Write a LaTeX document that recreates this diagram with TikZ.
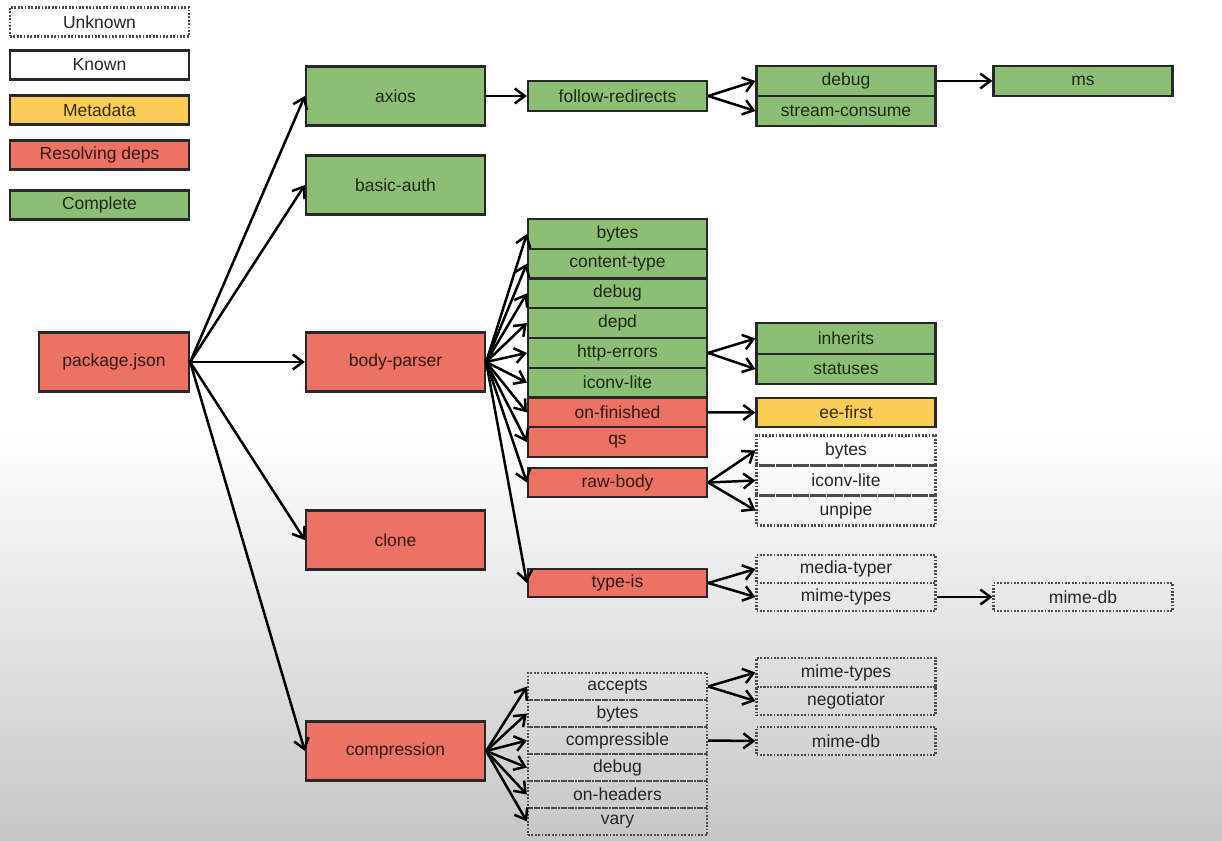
\documentclass[tikz,border=0pt]{standalone}
\usepackage{fontspec}
\setmainfont{Liberation Sans}
\usetikzlibrary{arrows.meta}
\definecolor{cgreen}{RGB}{141,190,118}
\definecolor{cred}{RGB}{235,114,100}
\definecolor{cyellow}{RGB}{249,205,88}
\definecolor{boxline}{RGB}{40,40,40}
\tikzset{
  box/.style={draw=boxline, line width=2.3pt, minimum width=179pt, minimum height=29pt,
    inner sep=0pt, font=\fontsize{17.5}{19}\selectfont},
  complete/.style={box, fill=cgreen, text=cgreen!22!black},
  resolving/.style={box, fill=cred, text=cred!22!black},
  metadata/.style={box, fill=cyellow, text=cyellow!22!black},
  known/.style={box, fill=white, text=black!85},
  unknown/.style={box, draw=black!70, line width=2.2pt, dash pattern=on 1.8pt off 1.6pt, text=black!85},
  big/.style={minimum height=59pt},
  link/.style={draw=black, line width=2.5pt, -{Straight Barb[length=10pt,width=15pt]}}
}
\begin{document}
\begin{tikzpicture}[x=1pt,y=-1pt]
  % canvas with the grey fade towards the bottom
  \useasboundingbox (0,0) rectangle (1222,840);
  \fill[white] (0,0) rectangle (1222,840);
  \shade[top color=white, bottom color=black!22] (0,430) rectangle (1222,840);

  % legend
  \node[unknown]   (lgunknown)  at (99.5,22)  {Unknown};
  \node[known]     (lgknown)    at (99.5,65)  {Known};
  \node[metadata]  (lgmeta)     at (99.5,110) {Metadata};
  \node[resolving] (lgresolve)  at (99.5,155) {Resolving deps};
  \node[complete]  (lgcomplete) at (99.5,205) {Complete};

  % root and direct dependencies
  \node[resolving, big, minimum width=150pt] (pkg) at (114,362) {package.json};
  \node[complete, big]  (axios)       at (395.5,96)  {axios};
  \node[complete, big]  (basicauth)   at (395.5,185) {basic-auth};
  \node[resolving, big] (bodyparser)  at (395.5,362) {body-parser};
  \node[resolving, big] (clone)       at (395.5,540) {clone};
  \node[resolving, big] (compression) at (395.5,751) {compression};

  % axios subtree
  \node[complete, minimum height=30pt] (followredirects) at (617.5,96) {follow-redirects};
  \node[complete, minimum height=30pt] (axdebug)         at (846,81)   {debug};
  \node[complete, minimum height=30pt] (streamconsume)   at (846,111)  {stream-consume};
  \node[complete, minimum height=30pt] (ms)              at (1083,81)  {ms};

  % body-parser subtree
  \node[complete,  minimum height=29.75pt] (bpbytes)       at (617.5,233.9) {bytes};
  \node[complete,  minimum height=29.75pt] (bpcontenttype) at (617.5,263.6) {content-type};
  \node[complete,  minimum height=29.75pt] (bpdebug)       at (617.5,293.4) {debug};
  \node[complete,  minimum height=29.75pt] (bpdepd)        at (617.5,323.1) {depd};
  \node[complete,  minimum height=29.75pt] (bphttperrors)  at (617.5,352.9) {http-errors};
  \node[complete,  minimum height=29.75pt] (bpiconv)       at (617.5,382.6) {iconv-lite};
  \node[resolving, minimum height=29.75pt] (bponfinished)  at (617.5,412.4) {on-finished};
  \node[resolving, minimum height=29.75pt] (bpqs)          at (617.5,442.1) {qs};
  \node[resolving] (bprawbody) at (617.5,482.5) {raw-body};
  \node[resolving, minimum height=28pt] (bptypeis) at (617.5,583) {type-is};

  \node[complete, minimum height=30.5pt] (inherits) at (846,338.5) {inherits};
  \node[complete, minimum height=30.5pt] (statuses) at (846,369)   {statuses};
  \node[metadata] (eefirst) at (846,412.5) {ee-first};
  \node[unknown, minimum height=30pt] (rbbytes)  at (846,450.5) {bytes};
  \node[unknown, minimum height=30pt] (rbiconv)  at (846,480.5) {iconv-lite};
  \node[unknown, minimum height=30pt] (rbunpipe) at (846,510.5) {unpipe};
  \node[unknown, minimum height=28pt] (mediatyper) at (846,569) {media-typer};
  \node[unknown, minimum height=28pt] (timimetypes) at (846,597) {mime-types};
  \node[unknown, minimum height=28pt] (timimedb) at (1083,597) {mime-db};

  % compression subtree
  \node[unknown, minimum height=27pt] (cpaccepts)      at (617.5,686.5) {accepts};
  \node[unknown, minimum height=27pt] (cpbytes)        at (617.5,713.5) {bytes};
  \node[unknown, minimum height=27pt] (cpcompressible) at (617.5,740.5) {compressible};
  \node[unknown, minimum height=27pt] (cpdebug)        at (617.5,767.5) {debug};
  \node[unknown, minimum height=27pt] (cponheaders)    at (617.5,794.5) {on-headers};
  \node[unknown, minimum height=27pt] (cpvary)         at (617.5,821.5) {vary};
  \node[unknown, minimum height=28.5pt] (acmimetypes)  at (846,672.5) {mime-types};
  \node[unknown, minimum height=28.5pt] (acnegotiator) at (846,701)   {negotiator};
  \node[unknown, minimum height=28pt]   (ccmimedb)     at (846,741)   {mime-db};

  % dependency edges
  \foreach \t in {axios,basicauth,bodyparser,clone,compression}
    \draw[link] (pkg.east) -- (\t.west);
  \draw[link] (axios.east) -- (followredirects.west);
  \draw[link] (followredirects.east) -- (axdebug.west);
  \draw[link] (followredirects.east) -- (streamconsume.west);
  \draw[link] (axdebug.east) -- (ms.west);

  \foreach \t in {bpbytes,bpcontenttype,bpdebug,bpdepd,bphttperrors,bpiconv,bponfinished,bpqs,bprawbody,bptypeis}
    \draw[link] (bodyparser.east) -- (\t.west);
  \draw[link] (bphttperrors.east) -- (inherits.west);
  \draw[link] (bphttperrors.east) -- (statuses.west);
  \draw[link] (bponfinished.east) -- (eefirst.west);
  \foreach \t in {rbbytes,rbiconv,rbunpipe}
    \draw[link] (bprawbody.east) -- (\t.west);
  \draw[link] (bptypeis.east) -- (mediatyper.west);
  \draw[link] (bptypeis.east) -- (timimetypes.west);
  \draw[link] (timimetypes.east) -- (timimedb.west);

  \foreach \t in {cpaccepts,cpbytes,cpcompressible,cpdebug,cponheaders,cpvary}
    \draw[link] (compression.east) -- (\t.west);
  \draw[link] (cpaccepts.east) -- (acmimetypes.west);
  \draw[link] (cpaccepts.east) -- (acnegotiator.west);
  \draw[link] (cpcompressible.east) -- (ccmimedb.west);
\end{tikzpicture}
\end{document}
